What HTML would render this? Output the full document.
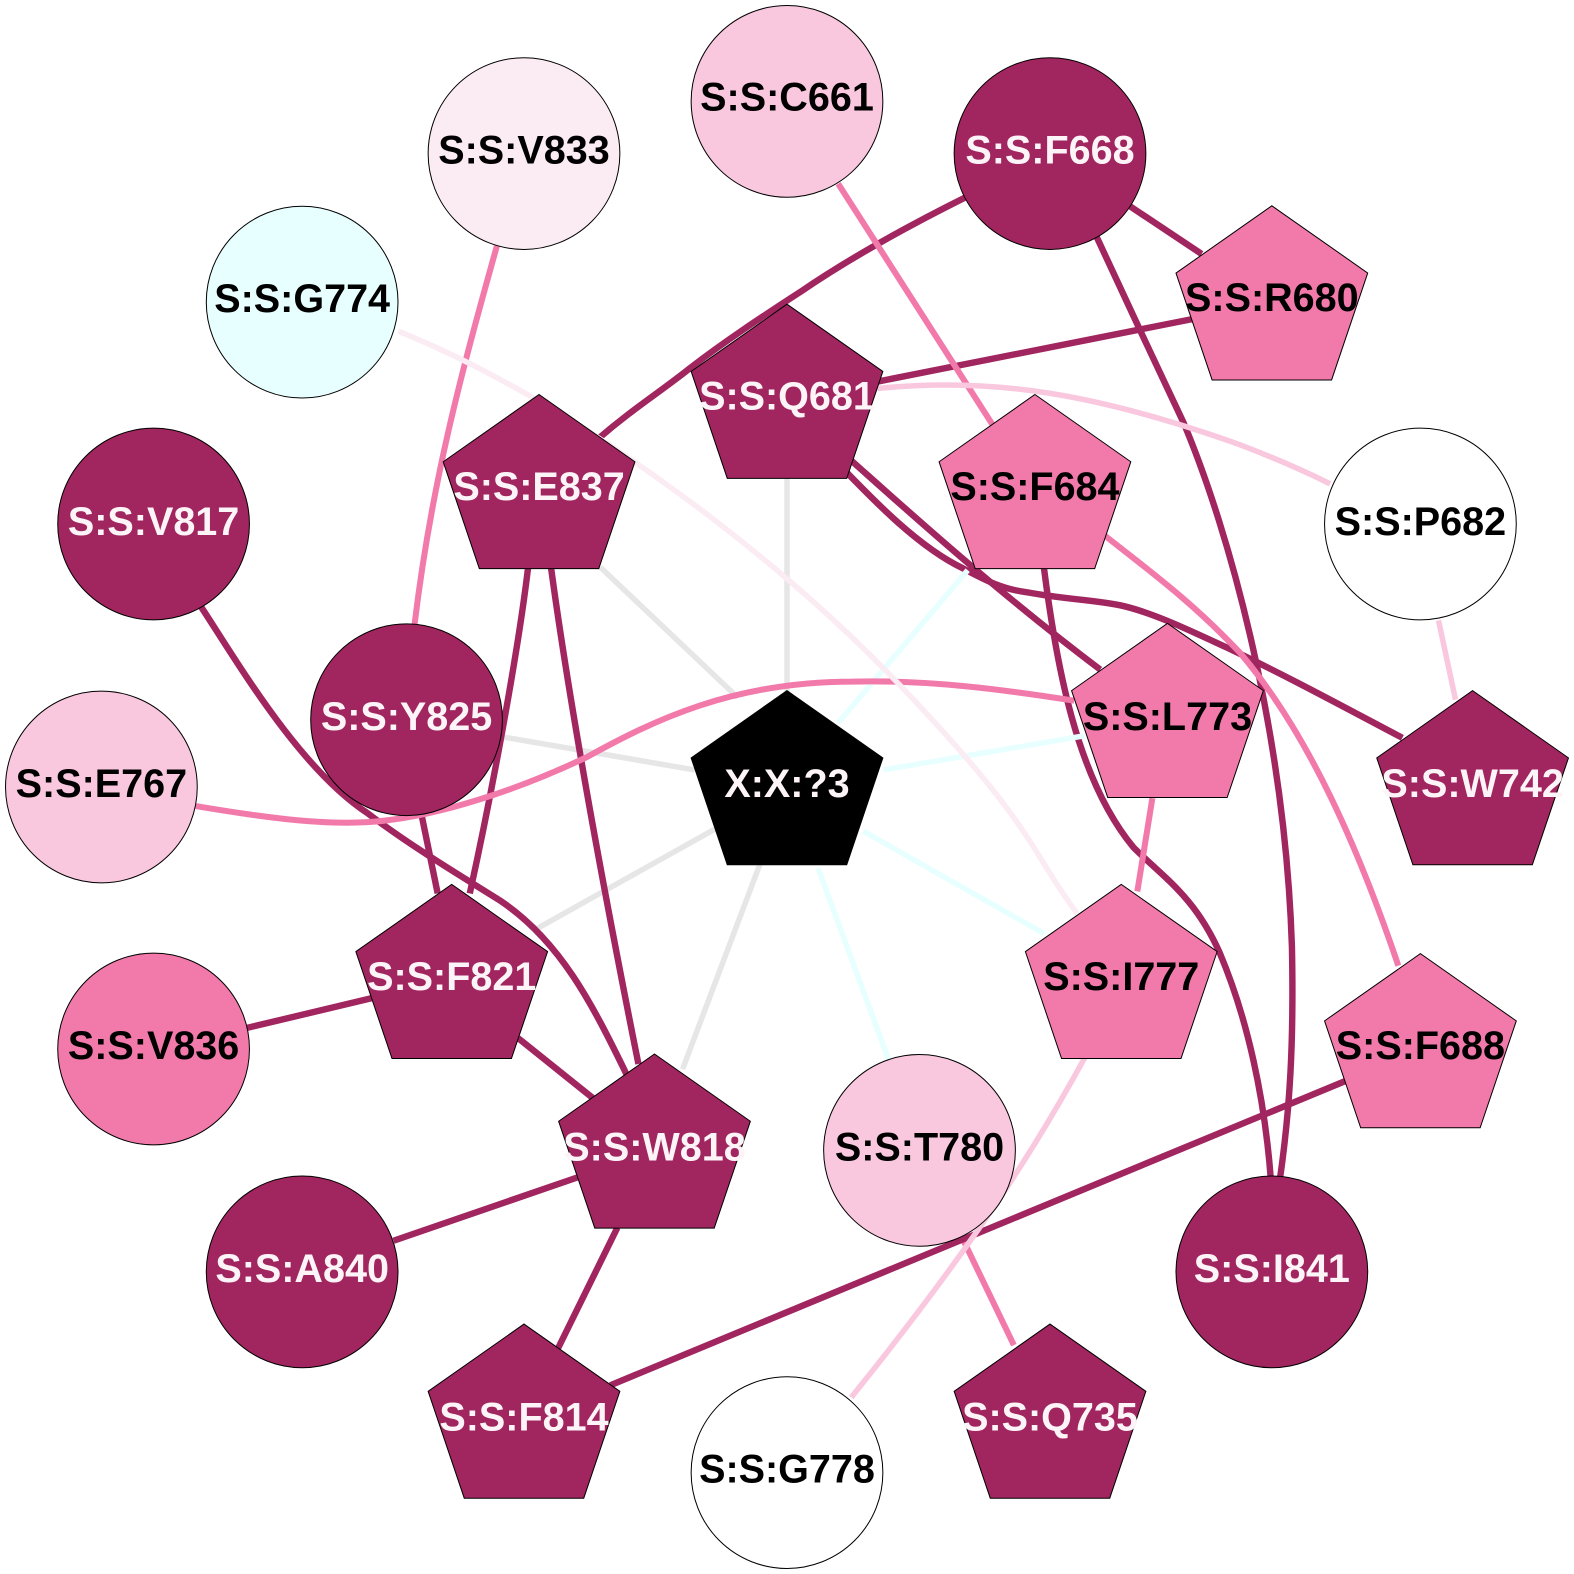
<!DOCTYPE html>
<html><head><meta charset="utf-8"><style>
html,body{margin:0;padding:0;background:#fff}
svg{display:block}
.e{fill:none;stroke-linecap:butt}
.d{stroke:#a1255f;stroke-width:6.4}
.p{stroke:#f27aab;stroke-width:6}
.l{stroke:#f9c8de;stroke-width:5.5}
.v{stroke:#fbebf3;stroke-width:5.5}
.c{stroke:#e8ffff;stroke-width:5.5}
.g{stroke:#e6e6e6;stroke-width:5.5}
.n{stroke:#000;stroke-width:1}
text{font-family:"Liberation Sans",sans-serif;font-weight:bold;font-size:39.4px;text-anchor:middle}
.w{fill:#fdf4f8}.k{fill:#000}
</style></head><body>
<svg width="1574" height="1574" viewBox="0 0 1568 1568" xmlns="http://www.w3.org/2000/svg">
<defs><polygon id="pg" points="0,0 95.5,67 59.5,173.5 -59.5,173.5 -95.5,67"/></defs>
<rect width="1568" height="1568" fill="#fff"/>
<!-- gray -->
<g class="e g">
<path d="M784,476L784,690"/><path d="M598,565L735,695"/><path d="M500,734L692,767"/><path d="M535,925L712,826"/><path d="M680,1065L757,861"/>
</g>
<path class="e p" d="M958,1232L1010,1340"/>
<!-- dark -->
<g class="e d">
<path d="M961,197C905,225 848,256 797,291C757,317 722,340 687,367C657,391 632,406 596,437"/>
<path d="M1125,205L1197,253"/>
<path d="M1092,235C1120,295 1150,360 1179,421C1225,530 1280,730 1287,943C1289,1040 1285,1105 1275,1175"/>
<path d="M875,380L1187,318"/>
<path d="M846,457C900,505 990,587 1096,667"/>
<path d="M840,467C870,498 915,545 959,566C985,580 1000,587 1023,590C1060,597 1085,597 1116,603C1148,610 1185,628 1222,645C1285,675 1340,705 1397,735"/>
<path d="M1040,566C1052,660 1072,775 1129,844C1160,875 1190,893 1215,949C1243,1015 1260,1095 1266,1175"/>
<path d="M200,604C238,662 298,765 366,810C408,842 458,872 498,897C558,937 590,1000 625,1072"/>
<path d="M420,812L436,890"/>
<path d="M526,566C516,650 490,790 468,890"/>
<path d="M549,566C570,720 608,920 636,1060"/>
<path d="M246,1024L372,994"/>
<path d="M516,1034L592,1095"/>
<path d="M392,1236L575,1173"/>
<path d="M615,1223L556,1343"/>
<path d="M608,1380L1340,1077"/>
</g>
<!-- cyan -->
<g class="e c">
<path d="M964,568L835,720"/><path d="M880,767L1080,733"/><path d="M860,828L1040,930"/><path d="M815,865L885,1055"/>
</g>
<!-- pink -->
<g class="e p">
<path d="M835,183L990,425"/>
<path d="M495,245C460,370 430,480 413,622"/>
<path d="M195,803C255,813 315,822 366,819C435,815 520,785 585,754C650,718 730,679 849,679C925,677 1000,687 1070,698"/>
<path d="M1100,533C1140,565 1185,597 1235,650C1305,732 1355,850 1393,962"/>
<path d="M1148,795L1133,888"/>
</g>
<!-- light -->
<g class="e l">
<path d="M874,387C990,375 1095,393 1235,443Q1285,462 1325,482"/>
<path d="M1433,618L1450,697"/>
<path d="M1081,1053C1041,1126 985,1222 848,1392"/>
</g>
<path class="e v" d="M397,330C555,393 757,537 894,680S1026,847 1073,910"/>
<!-- circles -->
<g class="n">
<circle cx="784" cy="101" r="95.5" fill="#f9c8de"/>
<circle cx="1046" cy="153" r="95.5" fill="#a1255f"/>
<circle cx="522" cy="153" r="95.5" fill="#fbebf3"/>
<circle cx="301" cy="301" r="95.5" fill="#e8ffff"/>
<circle cx="153" cy="522" r="95.5" fill="#a1255f"/>
<circle cx="1415" cy="522" r="95.5" fill="#fff"/>
<circle cx="405" cy="717" r="95.5" fill="#a1255f"/>
<circle cx="101" cy="784" r="95.5" fill="#f9c8de"/>
<circle cx="153" cy="1045" r="95.5" fill="#f27aab"/>
<circle cx="916" cy="1146" r="95.5" fill="#f9c8de"/>
<circle cx="301" cy="1267" r="95.5" fill="#a1255f"/>
<circle cx="1267" cy="1267" r="95.5" fill="#a1255f"/>
<circle cx="784" cy="1467" r="95.5" fill="#fff"/>
<!-- pentagons -->
<use href="#pg" x="1267" y="205" fill="#f27aab"/>
<use href="#pg" x="784" y="303" fill="#a1255f"/>
<use href="#pg" x="537" y="393" fill="#a1255f"/>
<use href="#pg" x="1031" y="393" fill="#f27aab"/>
<use href="#pg" x="1163" y="621" fill="#f27aab"/>
<use href="#pg" x="1467" y="688" fill="#a1255f"/>
<use href="#pg" x="784" y="688" fill="#000"/>
<use href="#pg" x="450" y="881" fill="#a1255f"/>
<use href="#pg" x="1117" y="881" fill="#f27aab"/>
<use href="#pg" x="1415" y="950" fill="#f27aab"/>
<use href="#pg" x="652" y="1050" fill="#a1255f"/>
<use href="#pg" x="522" y="1319" fill="#a1255f"/>
<use href="#pg" x="1046" y="1319" fill="#a1255f"/>
</g>
<!-- labels -->
<text class="k" x="784" y="110">S:S:C661</text>
<text class="w" x="1046" y="163">S:S:F668</text>
<text class="k" x="522" y="163">S:S:V833</text>
<text class="k" x="301" y="311">S:S:G774</text>
<text class="k" x="1267" y="310">S:S:R680</text>
<text class="w" x="784" y="408">S:S:Q681</text>
<text class="w" x="537" y="498">S:S:E837</text>
<text class="k" x="1031" y="498">S:S:F684</text>
<text class="w" x="153" y="533">S:S:V817</text>
<text class="k" x="1415" y="533">S:S:P682</text>
<text class="w" x="405" y="727">S:S:Y825</text>
<text class="k" x="1163" y="727">S:S:L773</text>
<text class="w" x="1467" y="794">S:S:W742</text>
<text class="k" x="101" y="794">S:S:E767</text>
<text class="w" x="784" y="794">X:X:?3</text>
<text class="w" x="450" y="986">S:S:F821</text>
<text class="k" x="1117" y="986">S:S:I777</text>
<text class="k" x="1415" y="1055">S:S:F688</text>
<text class="k" x="153" y="1055">S:S:V836</text>
<text class="w" x="652" y="1156">S:S:W818</text>
<text class="k" x="916" y="1156">S:S:T780</text>
<text class="w" x="301" y="1277">S:S:A840</text>
<text class="w" x="1267" y="1277">S:S:I841</text>
<text class="w" x="522" y="1425">S:S:F814</text>
<text class="w" x="1046" y="1425">S:S:Q735</text>
<text class="k" x="784" y="1477">S:S:G778</text>
</svg>
</body></html>
